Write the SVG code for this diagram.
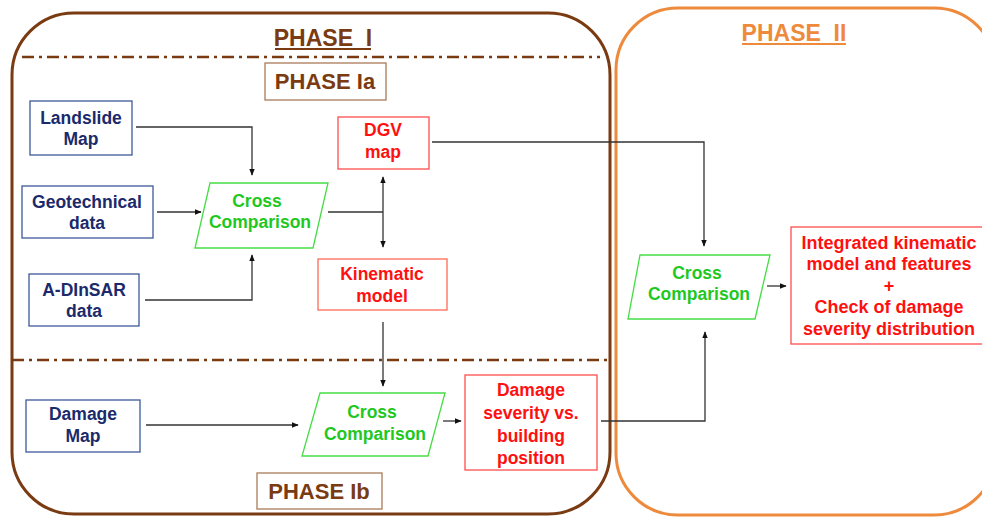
<svg xmlns="http://www.w3.org/2000/svg" width="982" height="518" viewBox="0 0 982 518">
<defs>
<marker id="ah" viewBox="0 0 10 10" refX="9" refY="5" markerWidth="7" markerHeight="7" orient="auto-start-reverse" markerUnits="userSpaceOnUse">
<path d="M0,1 L10,5 L0,9 Z" fill="#111"/>
</marker>
<style>
text{font-family:"Liberation Sans",Arial,sans-serif;font-weight:bold;text-anchor:middle}
.t{font-size:17.5px}
.blue rect{fill:#fff;stroke:#3b5998;stroke-width:1.3}
.blue text{fill:#1b2a6b}
.red rect{fill:#fff;stroke:#ff4d4d;stroke-width:1.3}
.red text{fill:#ff1010}
.grn polygon{fill:#fff;stroke:#44dd44;stroke-width:1.3}
.grn text{fill:#1fc81f}
.ph{font-size:22px;fill:#7a3b12}
.conn path{fill:none;stroke:#333;stroke-width:1.3}
.dd{fill:none;stroke:#7a3b12;stroke-width:2.5;stroke-dasharray:12 5 3 5}
</style>
</defs>
<rect width="982" height="518" fill="#fff"/>
<g id="phase1">
<rect x="12" y="13" width="598" height="501" rx="62" ry="62" fill="none" stroke="#7a3b12" stroke-width="3"/>
<text class="ph" x="323" y="46" xml:space="preserve" style="font-size:23px">PHASE  I</text>
<line x1="275" y1="49" x2="371" y2="49" stroke="#7a3b12" stroke-width="2"/>
<line class="dd" x1="22" y1="57" x2="600" y2="57"/>
<line class="dd" x1="12" y1="360" x2="610" y2="360"/>
</g>
<g id="phase2">
<rect x="616" y="8" width="380" height="507" rx="62" ry="62" fill="none" stroke="#ee8a3c" stroke-width="3"/>
<text x="794" y="41" xml:space="preserve" style="font-size:23px;fill:#ee8a3c">PHASE  II</text>
<line x1="742" y1="44" x2="846" y2="44" stroke="#ee8a3c" stroke-width="2"/>
</g>
<g id="phase1a">
<rect x="265" y="63" width="121" height="37" fill="#fff" stroke="#a87a5a" stroke-width="1.3"/>
<text class="ph" x="325" y="89">PHASE Ia</text>
</g>
<g id="phase1b">
<rect x="257" y="473" width="125" height="36" fill="#fff" stroke="#a87a5a" stroke-width="1.3"/>
<text class="ph" x="319" y="499">PHASE Ib</text>
</g>
<g class="conn" id="connectors">
<path d="M136,127 H252 V175" marker-end="url(#ah)"/>
<path d="M157,212 H201" marker-end="url(#ah)"/>
<path d="M145,300 H252 V255" marker-end="url(#ah)"/>
<path d="M328,212 H383"/>
<path d="M383,177 V247" marker-start="url(#ah)" marker-end="url(#ah)"/>
<path d="M383,322 V386" marker-end="url(#ah)"/>
<path d="M146,425 H298" marker-end="url(#ah)"/>
<path d="M443,421 H461" marker-end="url(#ah)"/>
<path d="M601,421 H705 V332" marker-end="url(#ah)"/>
<path d="M432,142 H704 V246" marker-end="url(#ah)"/>
<path d="M767,286 H786" marker-end="url(#ah)"/>
</g>
<g id="landslide" class="blue">
<rect x="30" y="101" width="102" height="54"/>
<text class="t" x="81" y="124">Landslide</text>
<text class="t" x="81" y="145">Map</text>
</g>
<g id="geotech" class="blue">
<rect x="22" y="186" width="131" height="52"/>
<text class="t" x="87" y="208">Geotechnical</text>
<text class="t" x="87" y="229">data</text>
</g>
<g id="adinsar" class="blue">
<rect x="29" y="274" width="110" height="52"/>
<text class="t" x="84" y="296">A-DInSAR</text>
<text class="t" x="84" y="317">data</text>
</g>
<g id="cross1" class="grn">
<polygon points="210,183 328,183 313,248 195,248"/>
<text class="t" x="257" y="207">Cross</text>
<text class="t" x="260" y="228">Comparison</text>
</g>
<g id="dgv" class="red">
<rect x="338" y="117" width="91" height="52"/>
<text class="t" x="383" y="136">DGV</text>
<text class="t" x="383" y="158">map</text>
</g>
<g id="kinematic" class="red">
<rect x="318" y="259" width="129" height="51" style="stroke:#ff6a55"/>
<text class="t" x="382" y="280">Kinematic</text>
<text class="t" x="382" y="302">model</text>
</g>
<g id="damagemap" class="blue">
<rect x="26" y="400" width="114" height="52"/>
<text class="t" x="83" y="420">Damage</text>
<text class="t" x="83" y="442">Map</text>
</g>
<g id="cross2" class="grn">
<polygon points="320,393 445,393 428,456 302,456"/>
<text class="t" x="372" y="418">Cross</text>
<text class="t" x="375" y="440">Comparison</text>
</g>
<g id="severity" class="red">
<rect x="465" y="375" width="132" height="95"/>
<text class="t" x="531" y="396">Damage</text>
<text class="t" x="531" y="419">severity vs.</text>
<text class="t" x="531" y="442">building</text>
<text class="t" x="531" y="464">position</text>
</g>
<g id="cross3" class="grn">
<polygon points="640,255 770,255 755,319 628,319"/>
<text class="t" x="697" y="279">Cross</text>
<text class="t" x="699" y="300">Comparison</text>
</g>
<g id="integrated" class="red">
<rect x="791" y="227" width="195" height="117"/>
<text class="t" x="889" y="249" style="font-size:18px">Integrated kinematic</text>
<text class="t" x="889" y="270" style="font-size:18px">model and features</text>
<text class="t" x="889" y="292" style="font-size:18px">+</text>
<text class="t" x="889" y="313" style="font-size:18px">Check of damage</text>
<text class="t" x="889" y="335" style="font-size:18px">severity distribution</text>
</g>
</svg>
